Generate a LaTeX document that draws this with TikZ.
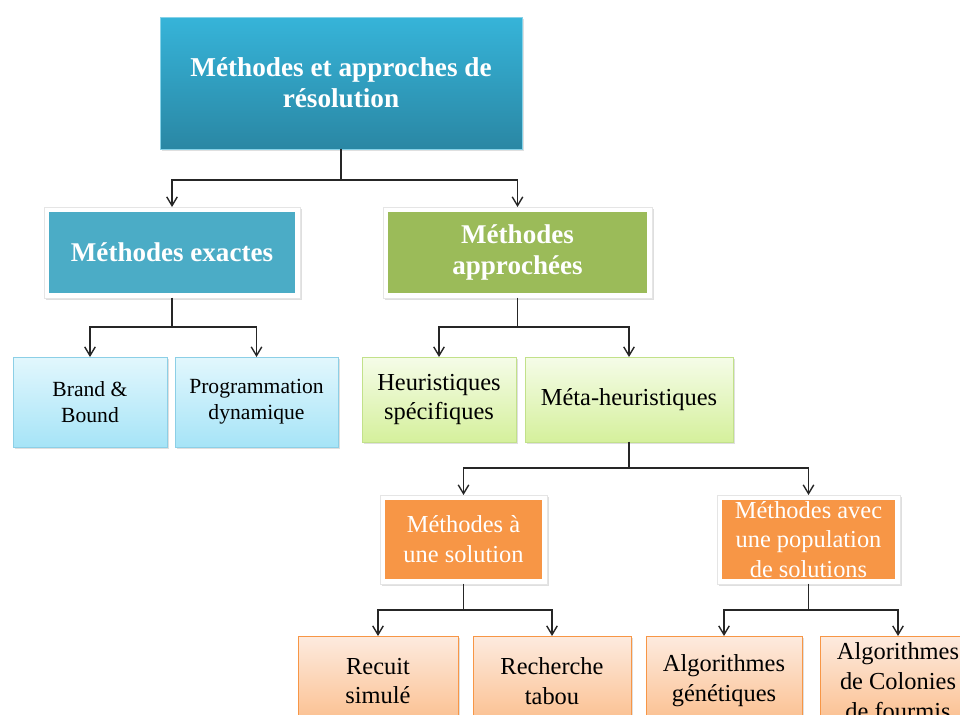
\documentclass[tikz,border=0pt]{standalone}
\usepackage{fontspec}
\setmainfont{Liberation Serif}
\usetikzlibrary{arrows.meta}
\usetikzlibrary{shadows}
\definecolor{rootup}{HTML}{36B4D9}
\definecolor{rootdown}{HTML}{2A87A4}
\definecolor{exactc}{HTML}{4BACC6}
\definecolor{approxc}{HTML}{9BBB59}
\definecolor{orangec}{HTML}{F79646}
\definecolor{blueup}{HTML}{E2F7FD}
\definecolor{bluedown}{HTML}{A6E4F7}
\definecolor{blueline}{HTML}{8CCFE6}
\definecolor{greenup}{HTML}{F5FCE8}
\definecolor{greendown}{HTML}{D5F09C}
\definecolor{greenline}{HTML}{C2E18A}
\definecolor{peachup}{HTML}{FDEBDF}
\definecolor{peachdown}{HTML}{FBBE8C}
\tikzset{
    base/.style = {rectangle, inner sep=0pt, outer sep=0pt, align=center,
                   drop shadow={shadow xshift=1pt, shadow yshift=-1pt, opacity=0.25}},
    rootbox/.style = {base, top color=rootup, bottom color=rootdown, draw=rootup!60!white,
                   text=white, font=\fontsize{15.5}{17.6}\selectfont\bfseries},
    framed/.style = {base, fill=white, draw=black!10, text=white,
                   path picture={\fill[#1] ([shift={(3pt,3pt)}]path picture bounding box.south west)
                   rectangle ([shift={(-3pt,-3pt)}]path picture bounding box.north east);}},
    levelone/.style = {framed=#1, font=\fontsize{15.4}{18}\selectfont\bfseries},
    orangebox/.style = {framed=orangec, font=\fontsize{13.9}{17}\selectfont},
    bluebox/.style = {base, top color=blueup, bottom color=bluedown, draw=blueline,
                   font=\fontsize{12.3}{14.7}\selectfont},
    greenbox/.style = {base, top color=greenup, bottom color=greendown, draw=greenline,
                   font=\fontsize{13.9}{17}\selectfont},
    peachbox/.style = {base, top color=peachup, bottom color=peachdown, draw=orangec,
                   font=\fontsize{13.9}{17}\selectfont},
    edgen/.style = {-{Straight Barb[length=5pt,width=6pt]}, line width=0.8pt, black!85}
}
\begin{document}
\begin{tikzpicture}[x=0.02cm, y=-0.02cm]
  \useasboundingbox (0,0) rectangle (960,715);
  \clip (0,0) rectangle (960,715);

  % top
  \node[rootbox, minimum width=7.24cm, minimum height=2.64cm] (root) at (341,83)
      {M\'ethodes et approches de\\r\'esolution};

  % level 1
  \node[levelone=exactc, minimum width=5.12cm, minimum height=1.82cm] (exact) at (172,252.5)
      {M\'ethodes exactes};
  \node[levelone=approxc, minimum width=5.38cm, minimum height=1.82cm] (approx) at (517.5,252.5)
      {M\'ethodes\\approch\'ees};

  % level 2
  \node[bluebox, minimum width=3.08cm, minimum height=1.80cm] (brand) at (90,402)
      {Brand \&\\Bound};
  \node[bluebox, minimum width=3.26cm, minimum height=1.80cm] (prog) at (256.5,402)
      {Programmation\\dynamique};
  \node[greenbox, minimum width=3.08cm, minimum height=1.70cm] (heur) at (439,399.5)
      {Heuristiques\\sp\'ecifiques};
  \node[greenbox, minimum width=4.16cm, minimum height=1.70cm] (meta) at (629,399.5)
      {M\'eta-heuristiques};

  % level 3
  \node[orangebox, minimum width=3.34cm, minimum height=1.78cm] (single) at (463.5,539.5)
      {M\'ethodes \`a\\une solution};
  \node[orangebox, minimum width=3.66cm, minimum height=1.78cm] (popul) at (808.5,539.5)
      {M\'ethodes avec\\une population\\de solutions};

  % level 4
  \node[peachbox, minimum width=3.20cm, minimum height=1.80cm] (recuit) at (378,681)
      {Recuit\\simul\'e};
  \node[peachbox, minimum width=3.16cm, minimum height=1.80cm] (tabou) at (552,681)
      {Recherche\\tabou};
  \node[peachbox, minimum width=3.12cm, minimum height=1.80cm] (genet) at (724,681)
      {Algorithmes\\g\'en\'etiques};
  \node[peachbox, minimum width=3.12cm, minimum height=1.80cm] (fourmis) at (898,681)
      {Algorithmes\\de Colonies\\de fourmis};

  \draw[edgen] (root.south) -- ++(0,31) -| (exact.north);
  \draw[edgen] (root.south) -- ++(0,31) -| (approx.north);
  \draw[edgen] (exact.south) -- ++(0,29) -| (brand.north);
  \draw[edgen] (exact.south) -- ++(0,29) -| (prog.north);
  \draw[edgen] (approx.south) -- ++(0,29) -| (heur.north);
  \draw[edgen] (approx.south) -- ++(0,29) -| (meta.north);
  \draw[edgen] (meta.south) -- ++(0,26) -| (single.north);
  \draw[edgen] (meta.south) -- ++(0,26) -| (popul.north);
  \draw[edgen] (single.south) -- ++(0,26) -| (recuit.north);
  \draw[edgen] (single.south) -- ++(0,26) -| (tabou.north);
  \draw[edgen] (popul.south) -- ++(0,26) -| (genet.north);
  \draw[edgen] (popul.south) -- ++(0,26) -| (fourmis.north);

\end{tikzpicture}
\end{document}
